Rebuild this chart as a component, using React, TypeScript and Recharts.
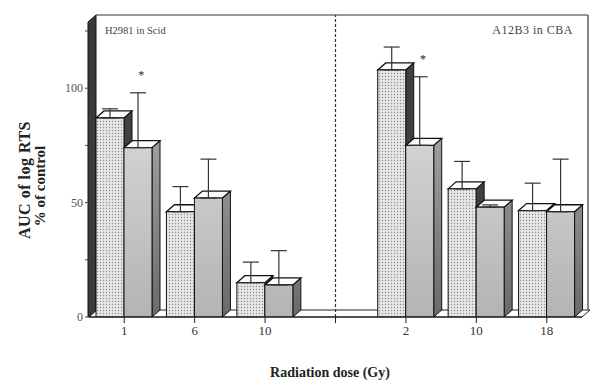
import { BarChart, Bar, XAxis, YAxis, ErrorBar, ReferenceLine, ReferenceDot } from 'recharts';

// dose groups, left panel = H2981 in Scid, right panel = A12B3 in CBA; '' is the divider slot
const CATEGORIES = ['1', '6', '10', '', '2', '10', '18'];
const KEYS = CATEGORIES.map((c, i) => `${i}:${c}`);

const SERIES_A = [87, 46, 15, null, 108, 56, 46.5];
const ERR_A = [4, 11, 9, 0, 10, 12, 12];
const SERIES_B = [74, 52, 14, null, 75, 48, 46];
const ERR_B = [24, 17, 15, 0, 30, 1, 23];
const STARRED = [0, 4];

const Y_TICKS = [0, 25, 50, 75, 100, 125];

const data = KEYS.map((k, i) => ({
  key: k,
  a: SERIES_A[i],
  b: SERIES_B[i],
  errA: [0, ERR_A[i]],
  errB: [0, ERR_B[i]],
}));

const W = 590;
const H = 381;
const M = { top: 15, right: 8, left: 29, bottom: 34 };
const Y_W = 60;
const X_H = 30;
const PL = M.left + Y_W;
const PR = W - M.right;
const PT = M.top;
const PB = H - M.bottom - X_H;
const D = 8;
const DY = 7;
const SERIF = '"Liberation Serif", "DejaVu Serif", serif';

function Bar3D(props: any) {
  const { x, y, width, height, fill, side } = props;
  if (!height || height <= 0 || isNaN(y)) return null;
  return (
    <g>
      <path
        d={`M${x + width},${y} l${D},${-DY} v${height} l${-D},${DY} Z`}
        fill={side}
        stroke="#111"
        strokeWidth={1}
      />
      <path
        d={`M${x},${y} l${D},${-DY} h${width} l${-D},${DY} Z`}
        fill="#fbfbfb"
        stroke="#111"
        strokeWidth={1.3}
      />
      <rect x={x} y={y} width={width} height={height} fill={fill} stroke="#111" strokeWidth={1} />
    </g>
  );
}

function Frame() {
  return (
    <g>
      <polygon
        points={`${PR},${PB} ${PR + D},${PB - DY} ${PL + D},${PB - DY} ${PL},${PB}`}
        fill="#fff"
        stroke="#222"
        strokeWidth={1}
      />
      <line x1={PL + D - 1} y1={PT} x2={PR + 6} y2={PT} stroke="#333" strokeWidth={1.2} />
      <line x1={PR + 6} y1={PT} x2={PR + 6} y2={PB - DY} stroke="#333" strokeWidth={1.2} />
      <polygon
        points={`${PL - 1},${PB} ${PL - 1},${PT + DY} ${PL - 1 + D},${PT} ${PL - 1 + D},${PB - DY}`}
        fill="#3a3a3a"
        stroke="#111"
        strokeWidth={1}
      />
      <text x={PL + 16} y={PT + 19} fontFamily={SERIF} fontSize={10.5} fill="#444">
        H2981 in Scid
      </text>
      <text x={PR - 9} y={PT + 19} fontFamily={SERIF} fontSize={12} letterSpacing={0.5} fill="#444" textAnchor="end">
        A12B3 in CBA
      </text>
      <text
        transform="translate(30, 180) rotate(-90)"
        textAnchor="middle"
        fontFamily={SERIF}
        fontWeight="bold"
        fontSize={16}
        letterSpacing={0.5}
        fill="#222"
      >
        AUC of log RTS
      </text>
      <text
        transform="translate(45, 186) rotate(-90)"
        textAnchor="middle"
        fontFamily={SERIF}
        fontWeight="bold"
        fontSize={15}
        fill="#222"
      >
        % of control
      </text>
      <text x={330} y={377} textAnchor="middle" fontFamily={SERIF} fontWeight="bold" fontSize={14} fill="#222">
        Radiation dose (Gy)
      </text>
    </g>
  );
}

export default function App() {
  return (
    <div style={{ position: 'absolute', left: 0, top: 0, width: W, height: H, background: '#fff' }}>
      <BarChart width={W} height={H} data={data} margin={M} barGap={0} barSize={28}>
        <defs>
          <pattern id="dots" width="3" height="3" patternUnits="userSpaceOnUse">
            <rect width="3" height="3" fill="#e6e6e6" />
            <circle cx="1.5" cy="1.5" r="0.7" fill="#8c8c8c" />
          </pattern>
          <linearGradient id="greyFront" gradientUnits="userSpaceOnUse" x1="0" y1={PT} x2="0" y2={PB}>
            <stop offset="0%" stopColor="#e8e8e8" />
            <stop offset="100%" stopColor="#b4b4b4" />
          </linearGradient>
          <linearGradient id="greySide" gradientUnits="userSpaceOnUse" x1="0" y1={PT} x2="0" y2={PB}>
            <stop offset="0%" stopColor="#c4c4c4" />
            <stop offset="100%" stopColor="#6a6a6a" />
          </linearGradient>
        </defs>
        <Frame />
        <XAxis
          dataKey="key"
          height={X_H}
          tickFormatter={(v: string) => v.split(':')[1]}
          axisLine={{ stroke: '#111', strokeWidth: 1.2 }}
          tickLine={{ stroke: '#222' }}
          tickSize={6}
          tickMargin={3}
          tick={{ fontFamily: SERIF, fontSize: 13, fill: '#333' }}
        />
        <YAxis
          width={Y_W}
          domain={[0, 132]}
          ticks={Y_TICKS}
          allowDataOverflow
          tickFormatter={(v: number) => (v % 50 === 0 ? String(v) : '')}
          axisLine={false}
          tickLine={{ stroke: '#444' }}
          tickSize={4}
          tickMargin={2}
          tick={{ fontFamily: SERIF, fontSize: 12, fill: '#555' }}
        />
        <ReferenceLine x={KEYS[3]} stroke="#333" strokeWidth={1.2} strokeDasharray="3 2" />
        <Bar dataKey="a" fill="url(#dots)" isAnimationActive={false} shape={(p: any) => <Bar3D {...p} fill="url(#dots)" side="#404040" />}>
          <ErrorBar dataKey="errA" width={8} stroke="#333" strokeWidth={1.2} direction="y" />
        </Bar>
        <Bar dataKey="b" fill="url(#greyFront)" isAnimationActive={false} shape={(p: any) => <Bar3D {...p} fill="url(#greyFront)" side="url(#greySide)" />}>
          <ErrorBar dataKey="errB" width={8} stroke="#333" strokeWidth={1.2} direction="y" />
        </Bar>
        {STARRED.map((i) => (
          <ReferenceDot
            key={i}
            x={KEYS[i]}
            y={(SERIES_B[i] as number) + ERR_B[i]}
            r={0}
            stroke="none"
            fill="none"
            label={{ value: '*', position: 'top', dx: 17, offset: 14, fontSize: 12, fill: '#222', fontFamily: SERIF }}
          />
        ))}
      </BarChart>
    </div>
  );
}
